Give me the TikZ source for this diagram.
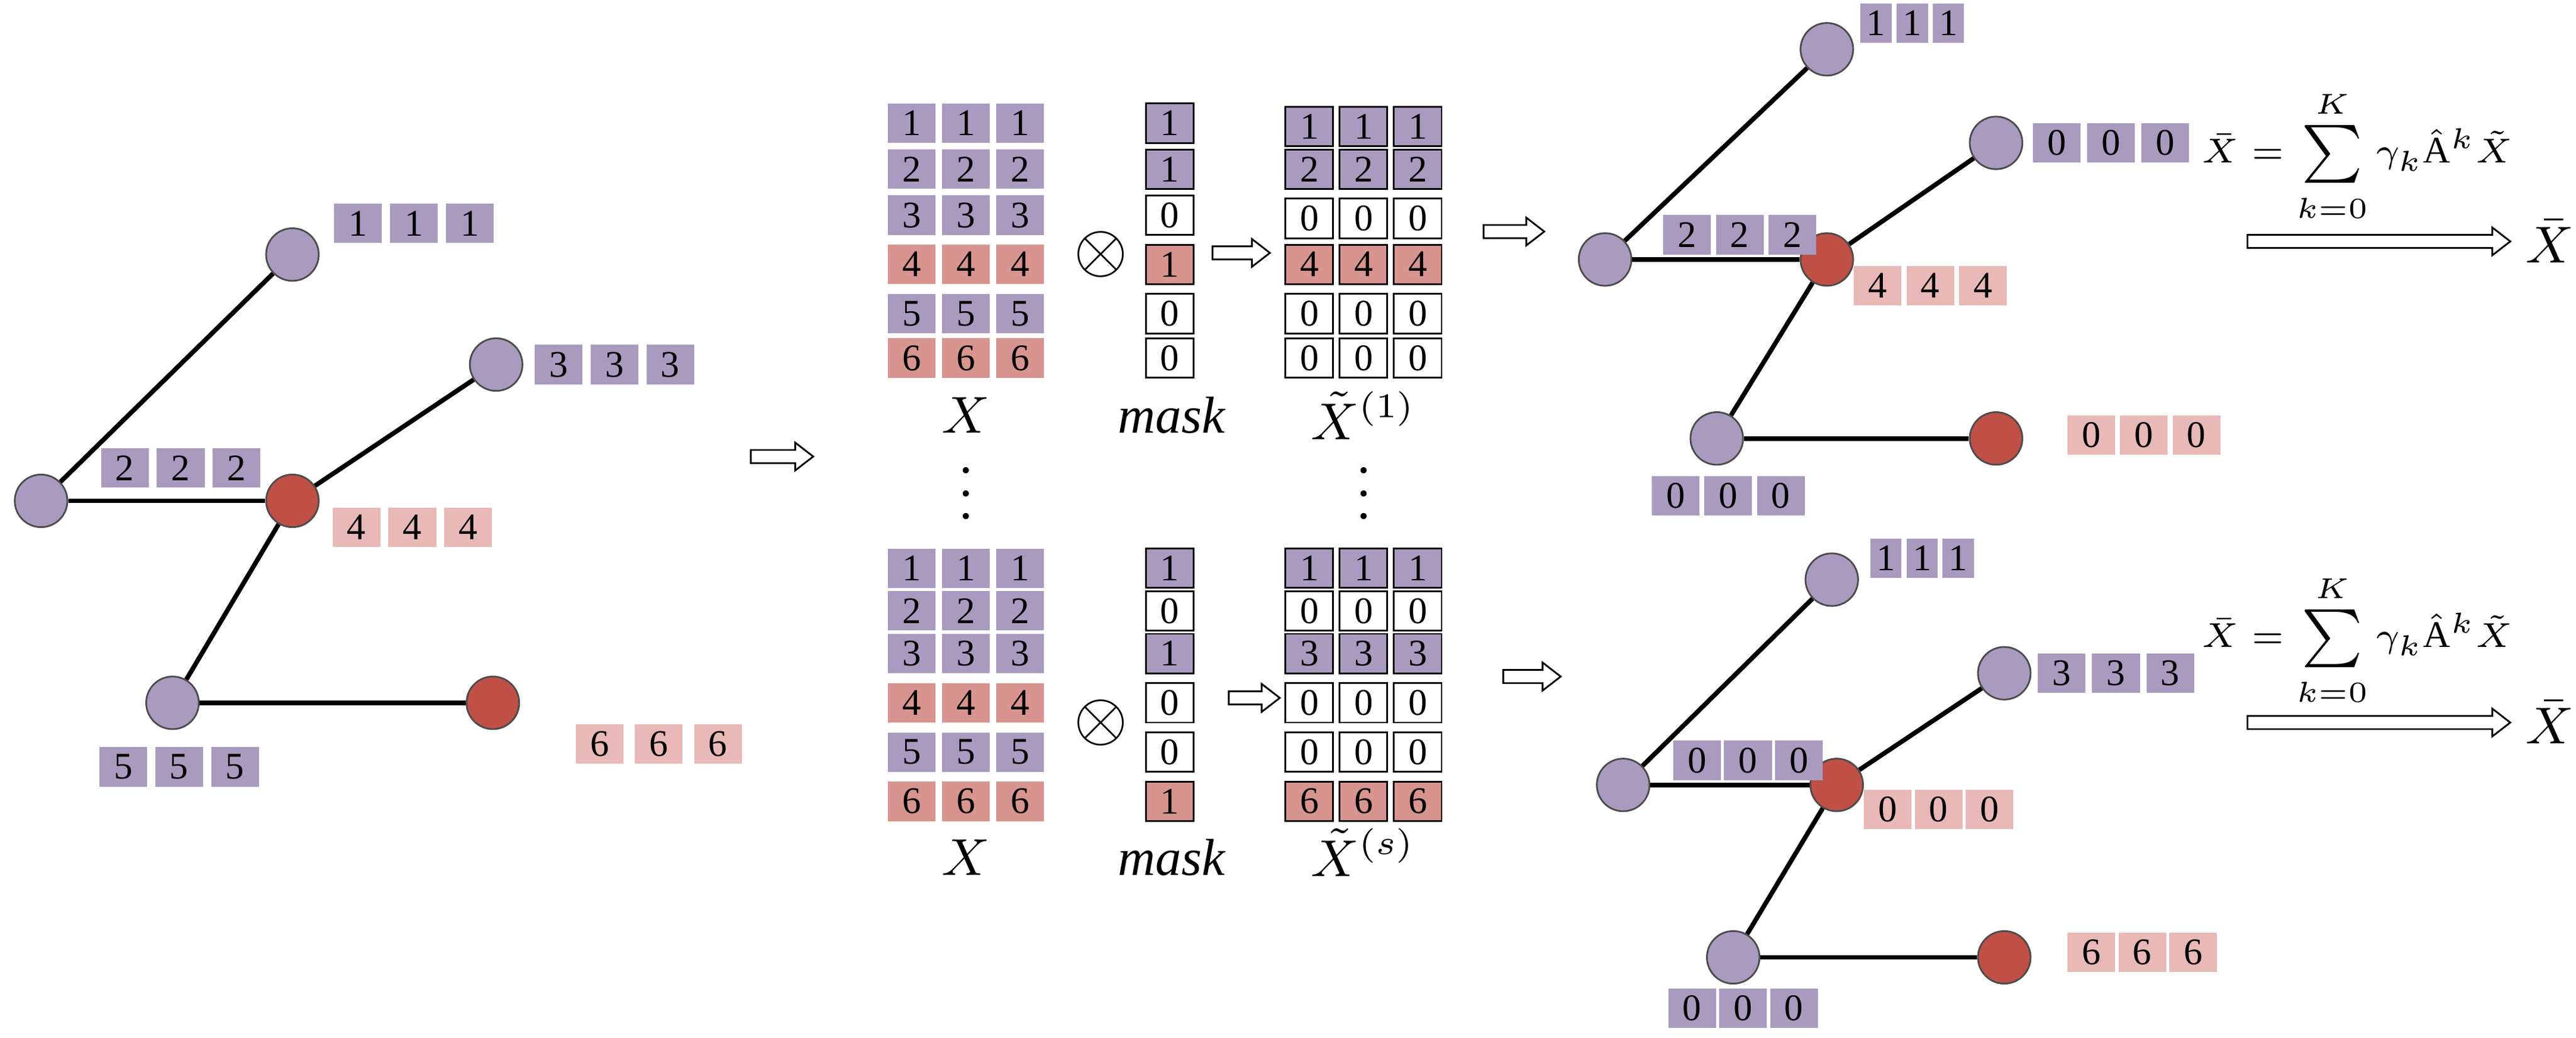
\documentclass[tikz,border=0pt]{standalone}
\usepackage{fontspec}
\setmainfont{Liberation Serif}
\definecolor{pur}{RGB}{169,155,192}
\definecolor{rdn}{RGB}{192,80,70}
\definecolor{rdm}{RGB}{216,148,142}
\definecolor{pk}{RGB}{232,185,182}
\begin{document}
\begin{tikzpicture}[x=0.01cm,y=-0.01cm,
  cell/.style={minimum width=0.29cm,minimum height=0.24cm,inner sep=0pt,font=\fontsize{6.5}{7}\selectfont},
  scell/.style={cell,minimum width=0.19cm},
  pu/.style={cell,fill=pur},
  rd/.style={cell,fill=rdm},
  pk/.style={cell,fill=pk},
  pub/.style={cell,fill=pur,draw=black,line width=0.3pt},
  rdb/.style={cell,fill=rdm,draw=black,line width=0.3pt},
  wb/.style={cell,fill=white,draw=black,line width=0.3pt},
  spu/.style={scell,fill=pur},
  gp/.style={circle,minimum size=0.32cm,inner sep=0pt,fill=pur,draw=black!70,line width=0.3pt},
  gr/.style={circle,minimum size=0.32cm,inner sep=0pt,fill=rdn,draw=black!70,line width=0.3pt},
  ed/.style={line width=0.8pt},
  bar/.style={draw=black,fill=white,line width=0.3pt},
  lab/.style={font=\fontsize{9}{10}\selectfont},
  fm/.style={font=\fontsize{6.5}{7}\selectfont}]
\useasboundingbox (0,0) rectangle (1568,632);
\newcommand\trip[6]{\foreach \i/\n in {0/a,1/b,2/c}{\node[#5] (#1\n) at ({#2+#4*\i},#3) {#6};}}
% block arrow: name, x1, x2, y
\newcommand\barrow[4]{\draw[bar] (#2,#3-4) -- (#3-11,#4-4) -- (#3-11,#4-8.5) -- (#3,#4) -- (#3-11,#4+8.5) -- (#3-11,#4+4) -- (#2,#4+4) -- cycle; \coordinate (#1) at ({(#2+#3)/2},#4);}
\renewcommand\barrow[4]{\draw[bar] (#2,{#4-4}) -- ({#3-11},{#4-4}) -- ({#3-11},{#4-8.5}) -- (#3,#4) -- ({#3-11},{#4+8.5}) -- ({#3-11},{#4+4}) -- (#2,{#4+4}) -- cycle; \coordinate (#1) at ({(#2+#3)/2},#4);}
% ---------- left graph
\node[gp] (A) at (178,155) {};
\node[gp] (B) at (25,305) {};
\node[gr] (C) at (178,305) {};
\node[gp] (D) at (302,222) {};
\node[gp] (E) at (105,428) {};
\node[gr] (F) at (300,428) {};
\draw[ed] (B)--(A); \draw[ed] (B)--(C); \draw[ed] (C)--(D); \draw[ed] (C)--(E); \draw[ed] (E)--(F);
\trip{la}{218}{136}{34}{pu}{1}
\trip{lb}{340}{222}{34}{pu}{3}
\trip{lc}{76}{285}{34}{pu}{2}
\trip{ld}{217}{321}{34}{pk}{4}
\trip{le}{75}{467}{34}{pu}{5}
\trip{lf}{365}{453}{36}{pk}{6}
\barrow{ar0}{457}{495}{278}
% ---------- top matrices
\foreach \r/\y/\s in {1/75/pu,2/103/pu,3/131/pu,4/161/rd,5/191/pu,6/218/rd}{\trip{tx\r}{555}{\y}{33}{\s}{\r}}
\foreach \r/\y/\s/\v in {1/75/pub/1,2/103/pub/1,3/131/wb/0,4/161/rdb/1,5/191/wb/0,6/218/wb/0}{\node[\s] (tm\r) at (712,\y) {\v};}
\foreach \r/\y/\s/\v in {1/77/pub/1,2/103/pub/2,3/133/wb/0,4/161/rdb/4,5/191/wb/0,6/218/wb/0}{\trip{tt\r}{797}{\y}{33}{\s}{\v}}
\node[lab] (tX) at (588,253) {$X$};
\node[lab] (tM) at (713,253) {$\mathit{mask}$};
\node[lab] (tT) at (830,253) {$\tilde{X}^{(1)}$};
\node[font=\fontsize{12}{12}\selectfont] (tO) at (670,155) {$\otimes$};
\barrow{ar1}{738}{773}{154}
\node[font=\fontsize{9}{9}\selectfont] (d1) at (588,290) {$\vdots$};
\node[font=\fontsize{9}{9}\selectfont] (d2) at (830,290) {$\vdots$};
% ---------- bottom matrices
\foreach \r/\y/\s in {1/346/pu,2/372/pu,3/398/pu,4/428/rd,5/458/pu,6/488/rd}{\trip{bx\r}{555}{\y}{33}{\s}{\r}}
\foreach \r/\y/\s/\v in {1/346/pub/1,2/372/wb/0,3/398/pub/1,4/428/wb/0,5/458/wb/0,6/488/rdb/1}{\node[\s] (bm\r) at (712,\y) {\v};}
\foreach \r/\y/\s/\v in {1/346/pub/1,2/372/wb/0,3/398/pub/3,4/428/wb/0,5/458/wb/0,6/488/rdb/6}{\trip{bt\r}{797}{\y}{33}{\s}{\v}}
\node[lab] (bX) at (588,522) {$X$};
\node[lab] (bM) at (713,522) {$\mathit{mask}$};
\node[lab] (bT) at (830,519) {$\tilde{X}^{(s)}$};
\node[font=\fontsize{12}{12}\selectfont] (bO) at (670,440) {$\otimes$};
\barrow{ar2}{748}{779}{425}
% ---------- arrows to right graphs
\barrow{ar3}{903}{940}{141}
\barrow{ar4}{915}{950}{412}
% ---------- top right graph
\node[gp] (TA) at (1112,30) {};
\node[gp] (TB) at (977,158) {};
\node[gr] (TC) at (1112,158) {};
\node[gp] (TD) at (1215,87) {};
\node[gp] (TE) at (1045,267) {};
\node[gr] (TF) at (1215,267) {};
\draw[ed] (TB)--(TA); \draw[ed] (TB)--(TC); \draw[ed] (TC)--(TD); \draw[ed] (TC)--(TE); \draw[ed] (TE)--(TF);
\trip{ra}{1142}{14}{22}{spu}{1}
\trip{rb}{1252}{87}{33}{pu}{0}
\trip{rc}{1027}{143}{32}{pu}{2}
\trip{rd}{1143}{174}{32}{pk}{4}
\trip{re}{1273}{265}{32}{pk}{0}
\trip{rf}{1020}{302}{32}{pu}{0}
\node[fm] (f1) at (1435,95) {$\bar{X}=\sum\limits_{k=0}^{K}\gamma_k\hat{\mathrm{A}}^k\tilde{X}$};
\barrow{ar5}{1368}{1528}{147}
\node[lab] (o1) at (1552,147) {$\bar{X}$};
% ---------- bottom right graph
\node[gp] (UA) at (1115,353) {};
\node[gp] (UB) at (988,478) {};
\node[gr] (UC) at (1118,478) {};
\node[gp] (UD) at (1220,410) {};
\node[gp] (UE) at (1055,583) {};
\node[gr] (UF) at (1220,583) {};
\draw[ed] (UB)--(UA); \draw[ed] (UB)--(UC); \draw[ed] (UC)--(UD); \draw[ed] (UC)--(UE); \draw[ed] (UE)--(UF);
\trip{sa}{1148}{340}{22}{spu}{1}
\trip{sb}{1255}{410}{33}{pu}{3}
\trip{sc}{1033}{463}{31}{pu}{0}
\trip{sd}{1149}{493}{31}{pk}{0}
\trip{se}{1273}{580}{31}{pk}{6}
\trip{sf}{1030}{614}{31}{pu}{0}
\node[fm] (f2) at (1435,390) {$\bar{X}=\sum\limits_{k=0}^{K}\gamma_k\hat{\mathrm{A}}^k\tilde{X}$};
\barrow{ar6}{1368}{1528}{440}
\node[lab] (o2) at (1552,440) {$\bar{X}$};
\end{tikzpicture}
\end{document}
